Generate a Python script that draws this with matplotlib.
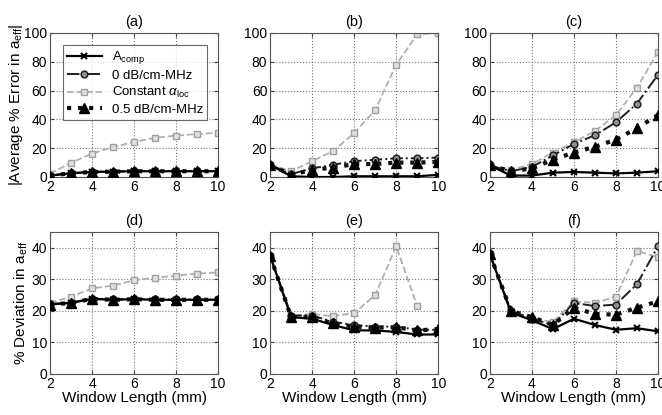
import numpy as np
import matplotlib
matplotlib.use('Agg')
import matplotlib.pyplot as plt

plt.rcParams['font.family'] = ['Liberation Sans', 'DejaVu Sans']
plt.rcParams['mathtext.fontset'] = 'custom'
plt.rcParams['mathtext.rm'] = 'Liberation Sans'
plt.rcParams['mathtext.it'] = 'Liberation Sans:italic'

# window lengths (mm)
win = [2, 3, 4, 5, 6, 7, 8, 9, 10]

# top row: |average % error|
a_comp = [1, 2.6, 3.5, 3.7, 4, 4, 4, 4, 4]
a_0db = [1, 2.6, 3.6, 3.8, 4.1, 4.1, 4.1, 4.1, 4.1]
a_const = [2.3, 9.8, 16.3, 20.7, 24.4, 27.2, 28.8, 29.8, 30.7]
a_05db = [1, 2.6, 3.5, 3.7, 4, 4, 4, 4, 4]

b_comp = [8.5, 0.5, 0, 0, 0.5, 0.5, 0.5, 0.5, 1.5]
b_0db = [8.5, 2, 6, 8.5, 11, 12, 13, 13, 13.5]
b_const = [8.5, 4, 11, 18, 30.5, 46.5, 78, 99, 100]
b_05db = [8.5, 1.5, 5, 6.5, 9, 9, 10, 10, 10.5]

c_comp = [8, 1, 1, 3, 3.5, 3, 2.5, 3, 4]
c_0db = [8, 4, 7, 15, 23, 29, 38, 51, 71]
c_const = [8, 5, 9, 17, 24, 32, 43, 62, 87]
c_05db = [8, 4, 6, 12, 17, 21, 26, 34, 43]

# bottom row: % deviation
d_comp = [22, 22.5, 23.8, 23.5, 23.7, 23.5, 23.5, 23.5, 23.5]
d_0db = [22.2, 22.6, 23.9, 23.6, 23.8, 23.6, 23.6, 23.6, 23.6]
d_const = [22.5, 24.5, 27.1, 28, 29.7, 30.5, 31.2, 31.8, 32.2]
d_05db = [22, 22.5, 23.8, 23.5, 23.7, 23.5, 23.5, 23.5, 23.5]

e_comp = [37.5, 18, 17.5, 15.5, 13.8, 13.8, 13.3, 12.5, 12.5]
e_0db = [37.5, 18.5, 18.5, 16.5, 15.5, 15, 15, 14, 14]
e_const = [37.5, 18.5, 19, 18.3, 19.3, 25, 40.5, 21.5, np.nan]
e_05db = [37.5, 18, 18, 16, 15, 14.7, 14.8, 13.8, 14.2]

f_comp = [38, 19.5, 17, 14.2, 17.5, 15.5, 14, 14.5, 13.5]
f_0db = [38, 20, 17.5, 15.5, 22.5, 21.5, 22, 28.5, 40.5]
f_const = [38, 20, 17.5, 16.5, 23, 22.5, 24.5, 39, 37]
f_05db = [38, 20, 18, 15.5, 21, 19, 18.8, 21, 23]

panels = [
    ('(a)', a_comp, a_0db, a_const, a_05db),
    ('(b)', b_comp, b_0db, b_const, b_05db),
    ('(c)', c_comp, c_0db, c_const, c_05db),
    ('(d)', d_comp, d_0db, d_const, d_05db),
    ('(e)', e_comp, e_0db, e_const, e_05db),
    ('(f)', f_comp, f_0db, f_const, f_05db),
]

fig = plt.figure(figsize=(6.62, 4.15), dpi=100)
lefts = [0.0755, 0.408, 0.740]
w = 0.254
boxes = [[l, 0.5735, w, 0.347] for l in lefts] + [[l, 0.099, w, 0.342] for l in lefts]

for i, (title, comp, db0, const, db05) in enumerate(panels):
    ax = fig.add_axes(boxes[i])
    ax.plot(win, const, ls='--', color='#b0b0b0', lw=1.3, marker='s', ms=4.5,
            mfc='#e0e0e0', mec='#a0a0a0', mew=1, label=r'Constant $\alpha_{\rm loc}$', zorder=2)
    ax.plot(win, db0, ls='-.', color='#202020', lw=1.4, marker='o', ms=4.8,
            mfc='#909090', mec='#202020', mew=1.1, label='0 dB/cm-MHz', zorder=3)
    ax.plot(win, db05, ls=':', color='#101010', lw=3, marker='^', ms=6.5,
            mfc='black', mec='black', label='0.5 dB/cm-MHz', zorder=4)
    ax.plot(win, comp, ls='-', color='black', lw=1.6, marker='x', ms=4.5, mew=1.5,
            label=r'A$_{\rm comp}$', zorder=5)
    ax.set_xlim(2, 10)
    ax.set_xticks([2, 4, 6, 8, 10])
    if i < 3:
        ax.set_ylim(0, 100)
        ax.set_yticks([0, 20, 40, 60, 80, 100])
    else:
        ax.set_ylim(0, 45)
        ax.set_yticks([0, 10, 20, 30, 40])
        ax.set_xlabel('Window Length (mm)', fontsize=11, labelpad=0)
    ax.grid(True, ls=':', color='#777777', lw=0.8)
    ax.tick_params(direction='in', labelsize=10, length=3, pad=2,
                   top=True, right=True, color='#444444')
    for s in ax.spines.values():
        s.set_color('#555555')
    ax.set_title(title, fontsize=10.5, pad=5)
    if i == 0:
        ax.set_ylabel(r'|Average % Error in a$_{\rm eff}$|', fontsize=11, labelpad=-1)
        h, l = ax.get_legend_handles_labels()
        order = [3, 1, 0, 2]
        leg = ax.legend([h[k] for k in order], [l[k] for k in order], loc='upper left',
                        fontsize=9.5, frameon=True, fancybox=False, edgecolor='#444444',
                        handlelength=2.6, borderpad=0.3, labelspacing=0.25,
                        bbox_to_anchor=(0.04, 0.96))
        leg.get_frame().set_linewidth(0.8)
    if i == 3:
        ax.set_ylabel(r'% Deviation in a$_{\rm eff}$', fontsize=11, labelpad=1)

fig.savefig('out.png', dpi=100)
